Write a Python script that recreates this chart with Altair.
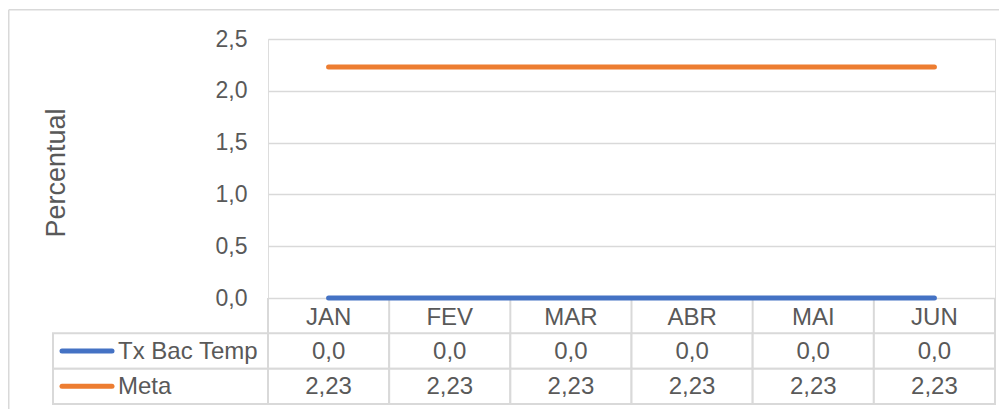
import altair as alt
import pandas as pd

months = ["JAN", "FEV", "MAR", "ABR", "MAI", "JUN"]
series_names = ["Tx Bac Temp", "Meta"]
tx_bac_temp = [0.0, 0.0, 0.0, 0.0, 0.0, 0.0]
meta = [2.23, 2.23, 2.23, 2.23, 2.23, 2.23]
decimals = [1, 2]
colors = ["#4472C4", "#ED7D31"]
y_ticks = [0.0, 0.5, 1.0, 1.5, 2.0, 2.5]

FONT = "Liberation Sans"
TXT = "#595959"
GRID = "#d9d9d9"
FS = 23
TFS = 24

series_values = [tx_bac_temp, meta]

# long table for the lines
line_rows = []
for name, vals in zip(series_names, series_values):
    for m, v in zip(months, vals):
        line_rows.append({"month": m, "series": name, "value": v})
line_df = pd.DataFrame(line_rows)

# data table below the chart
HDR = "_header"
row_order = [HDR] + series_names
header_df = pd.DataFrame({"month": months, "row": [HDR] * len(months), "label": months})
value_rows = []
for name, vals, d in zip(series_names, series_values, decimals):
    for m, v in zip(months, vals):
        value_rows.append({"month": m, "row": name,
                           "label": f"{v:.{d}f}".replace(".", ",")})
value_df = pd.DataFrame(value_rows)
series_df = pd.DataFrame({"row": series_names})
one = pd.DataFrame({"k": [0]})

W, H, TH = 727, 259, 106

color_scale = alt.Scale(domain=series_names, range=colors)

# ---- table (drawn first, below the plot area, with its own y scale) ----
band_x = alt.Scale(type="band", paddingInner=0, paddingOuter=0)
xb = alt.X("month:N", sort=months, scale=band_x, axis=None)
yb = alt.Y("row:N", sort=row_order,
           scale=alt.Scale(domain=row_order, range=[H, H + TH], paddingInner=0, paddingOuter=0),
           axis=None)

header_seps = alt.Chart(header_df).mark_rule(color=GRID, strokeWidth=2).encode(
    x=alt.X("month:N", sort=months, bandPosition=0, scale=band_x, axis=None),
    y=alt.value(H), y2=alt.value(H + TH / 3))
header_right = alt.Chart(one).mark_rule(color=GRID, strokeWidth=2).encode(
    x=alt.value(W), y=alt.value(H), y2=alt.value(H + TH / 3))
header_text = alt.Chart(header_df).mark_text(fontSize=TFS, color=TXT, font=FONT, dy=2).encode(
    x=xb, y=yb, text="label:N")
cells = alt.Chart(value_df).mark_rect(fill="white", stroke=GRID, strokeWidth=2).encode(x=xb, y=yb)
cell_text = alt.Chart(value_df).mark_text(fontSize=TFS, color=TXT, font=FONT, dy=1).encode(
    x=xb, y=yb, text="label:N")
label_cells = alt.Chart(series_df).mark_rect(fill="white", stroke=GRID, strokeWidth=2).encode(
    x=alt.value(-215), x2=alt.value(0), y=yb)
legend_lines = alt.Chart(series_df).mark_rule(strokeWidth=5, strokeCap="round").encode(
    x=alt.value(-206), x2=alt.value(-156), y=yb,
    color=alt.Color("row:N", scale=color_scale, legend=None))
label_text = alt.Chart(series_df).mark_text(fontSize=TFS, color=TXT, font=FONT, align="left", dy=1).encode(
    x=alt.value(-150), y=yb, text="row:N")

table = alt.layer(label_cells, cells, header_seps, header_right,
                  legend_lines, label_text, header_text, cell_text)

# ---- outer border (top and left edges) ----
border_top = alt.Chart(one).mark_rule(color=GRID, strokeWidth=1.5).encode(
    x=alt.value(-259.25), x2=alt.value(731), y=alt.value(-29.25))
border_left = alt.Chart(one).mark_rule(color=GRID, strokeWidth=1.5).encode(
    x=alt.value(-259.25), y=alt.value(-29.25), y2=alt.value(H + TH + 8))

# ---- line chart ----
lines = alt.Chart(line_df).mark_line(strokeWidth=5, strokeCap="round").encode(
    x=alt.X("month:N", sort=months, scale=alt.Scale(type="point", padding=0.5), axis=None),
    y=alt.Y("value:Q", scale=alt.Scale(domain=[0, 2.5], nice=False),
            axis=alt.Axis(values=y_ticks,
                          labelExpr="replace(format(datum.value, '.1f'), '.', ',')",
                          grid=True, gridColor=GRID, gridWidth=1.5,
                          domain=False, ticks=False, labelPadding=21,
                          labelFontSize=FS, labelColor=TXT, labelFont=FONT,
                          title="Percentual", titleFontSize=27, titleFontWeight="normal",
                          titleColor=TXT, titleFont=FONT, titleX=-212, titleY=H / 2 + 4,
                          titleAngle=270, titleAlign="center", titleBaseline="middle")),
    color=alt.Color("series:N", scale=color_scale, legend=None),
)

top = alt.layer(border_top, border_left, lines)

chart = alt.layer(table, top).resolve_scale(
    x="independent", y="independent", color="shared"
).properties(
    width=W, height=H,
    padding={"left": 0, "top": 1, "right": 0, "bottom": 0}
).configure_view(stroke=None).configure(font=FONT)

chart.save("out.html", embed_options={"renderer": "svg", "actions": False})
